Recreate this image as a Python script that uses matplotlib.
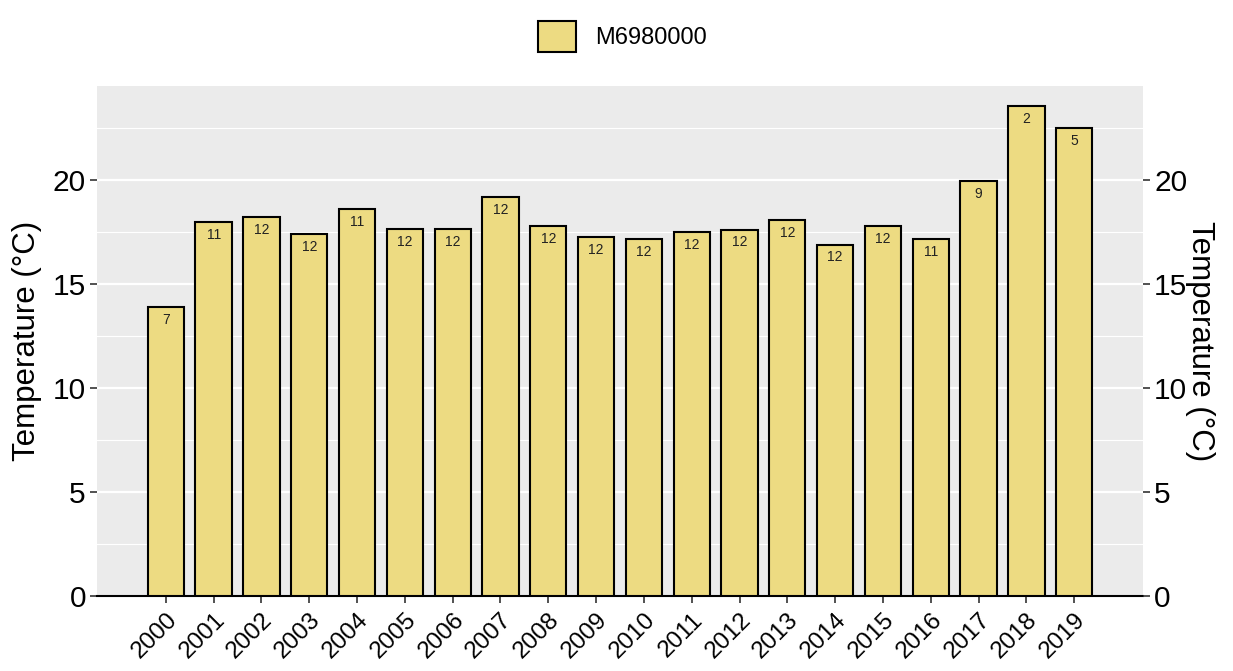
import matplotlib
matplotlib.use("Agg")
import matplotlib.pyplot as plt
from matplotlib.patches import Patch
import numpy as np

years = [str(y) for y in range(2000, 2020)]
temps = [13.89, 17.98, 18.22, 17.40, 18.60, 17.64, 17.64, 19.18, 17.79, 17.26,
         17.16, 17.50, 17.60, 18.08, 16.88, 17.79, 17.16, 19.95, 23.56, 22.50]
counts = [7, 11, 12, 12, 11, 12, 12, 12, 12, 12,
          12, 12, 12, 12, 12, 12, 11, 9, 2, 5]
series_name = "M6980000"
yticks = [0, 5, 10, 15, 20]

plt.rcParams['font.family'] = ['Liberation Sans', 'DejaVu Sans']

fig = plt.figure(figsize=(12.33, 6.71), dpi=100)
ax = fig.add_axes([97/1233, 75/671, (1143-97)/1233, (596-86)/671])
ax.set_facecolor('#EBEBEB')

x = np.arange(len(years))
fill = '#EDDB82'
ax.bar(x, temps, width=0.76, color=fill, edgecolor='black', linewidth=1.5, zorder=3)
for xi, t, c in zip(x, temps, counts):
    ax.annotate(str(c), (xi, t), xytext=(0, -4), textcoords='offset points',
                ha='center', va='top', fontsize=10, color='#222222', zorder=4)

ax.set_xlim(-1.44, 19 + 1.44)
ax.set_ylim(0, 24.52)
ax.set_yticks(yticks)
ax.set_yticks([2.5, 7.5, 12.5, 17.5, 22.5], minor=True)
ax.grid(True, which='major', axis='y', color='white', linewidth=1.6, zorder=0)
ax.grid(True, which='minor', axis='y', color='white', linewidth=0.8, zorder=0)
ax.set_axisbelow(True)
ax.set_xticks(x)
ax.set_xticklabels(years, rotation=45, ha='right', rotation_mode='anchor', fontsize=17.5)
for s in ['top', 'left', 'right']:
    ax.spines[s].set_visible(False)
ax.spines['bottom'].set_color('black')
ax.spines['bottom'].set_linewidth(1.5)
ax.tick_params(axis='y', which='minor', length=0)
ax.tick_params(axis='y', which='major', length=5, width=1.2, color='#333333',
               labelsize=21.5, pad=3)
ax.tick_params(axis='x', length=5, width=1.2, color='#333333', pad=4)
ax.set_ylabel('Temperature (°C)', fontsize=22.5, labelpad=8)

ax2 = ax.twinx()
ax2.set_ylim(ax.get_ylim())
ax2.set_yticks(yticks)
ax2.set_yticks([], minor=True)
ax2.tick_params(axis='y', which='major', length=5, width=1.2, color='#333333',
                labelsize=21.5, pad=3)
for s in ax2.spines.values():
    s.set_visible(False)
ax2.set_ylabel('Temperature (°C)', fontsize=22.5, rotation=-90, labelpad=20)

handles = [Patch(facecolor=fill, edgecolor='black', linewidth=1.5, label=series_name)]
fig.legend(handles=handles, loc='upper center', bbox_to_anchor=(0.505, 1.0),
           frameon=False, fontsize=17, handlelength=1.6, handleheight=1.6,
           handletextpad=0.8)

fig.savefig('out.png', dpi=100, facecolor='white')
